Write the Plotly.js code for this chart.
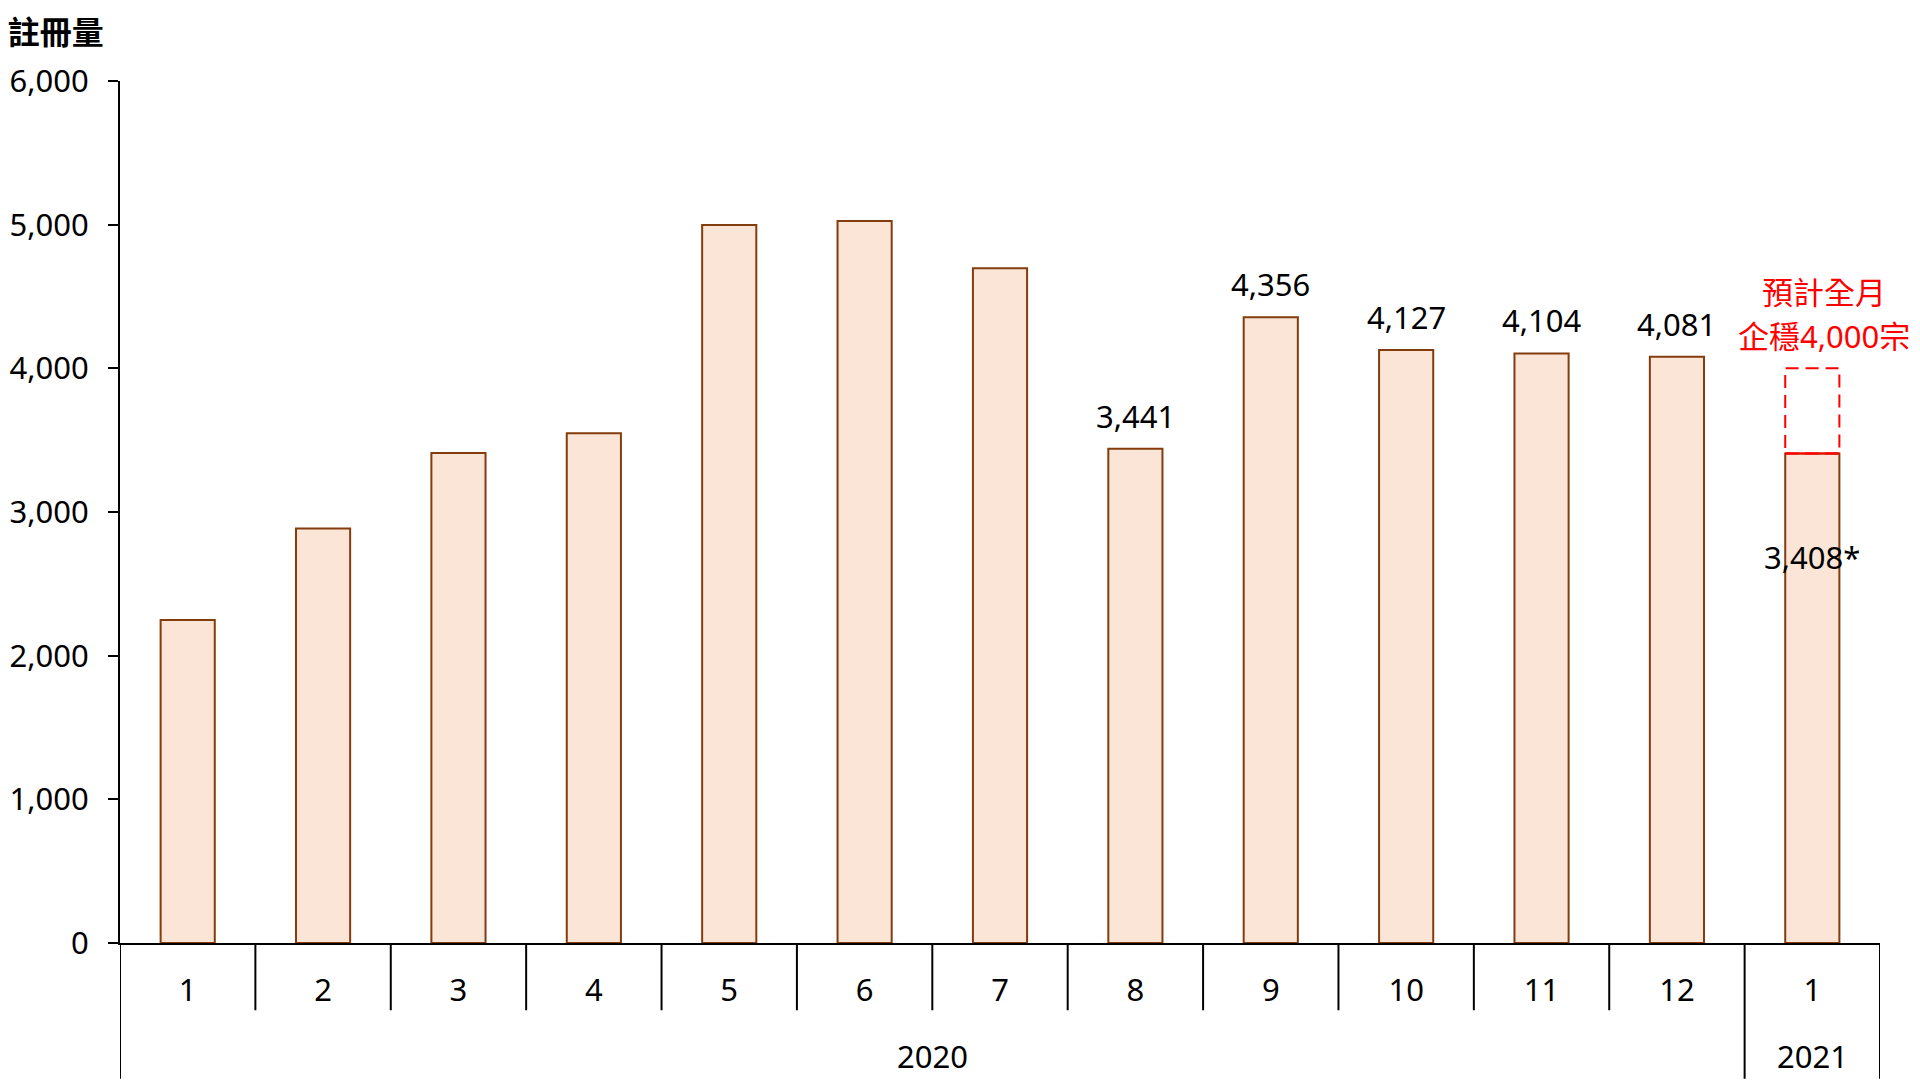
<!DOCTYPE html>
<html>
<head>
<meta charset="utf-8">
<script src="https://cdn.plot.ly/plotly-3.0.1.min.js"></script>
<style>html,body{margin:0;padding:0;background:#fff;}#chart{width:1920px;height:1080px;}</style>
</head>
<body>
<div id="chart"></div>
<script>
// ---- data ----
const monthLabels = ['1','2','3','4','5','6','7','8','9','10','11','12','1'];
const registrations = [2248, 2886, 3410, 3548, 4998, 5025, 4696, 3441, 4356, 4127, 4104, 4081, 3408];
const valueLabels = [null, null, null, null, null, null, null, '3,441', '4,356', '4,127', '4,104', '4,081', '3,408*'];
const yearLabels = ['2020', '2021'];
const yearSpans = [[0, 11], [12, 12]];
const projectedFullMonth = 4000;
const projectionLines = ['預計全月', '企穩4,000宗'];
const yTickVals = [0, 1000, 2000, 3000, 4000, 5000, 6000];

const FONT = 'Noto Sans, Noto Sans CJK TC, sans-serif';
const FS = 31;
const xIdx = monthLabels.map((_, i) => i);
const halfBar = 0.2;
const lastIdx = monthLabels.length - 1;

const trace = {
  type: 'bar',
  x: xIdx,
  y: registrations,
  marker: { color: '#FBE5D6', line: { color: '#843C0C', width: 2 } },
  hoverinfo: 'x+y'
};

const annotations = [];
valueLabels.forEach((t, i) => {
  if (!t) return;
  const inside = i === lastIdx;
  annotations.push({
    x: i, y: registrations[i], xref: 'x', yref: 'y',
    text: t, showarrow: false,
    xanchor: 'center', yanchor: 'middle',
    yshift: inside ? -104 : 33,
    font: { family: FONT, size: FS, color: '#000' }
  });
});
yearLabels.forEach((t, k) => {
  annotations.push({
    x: (yearSpans[k][0] + yearSpans[k][1]) / 2, xref: 'x',
    y: -0.131, yref: 'paper',
    text: t, showarrow: false, xanchor: 'center', yanchor: 'middle',
    font: { family: FONT, size: FS, color: '#000' }
  });
});
projectionLines.forEach((t, k) => {
  annotations.push({
    x: lastIdx, y: projectedFullMonth, xref: 'x', yref: 'y',
    text: t, showarrow: false,
    xanchor: 'center', yanchor: 'middle', xshift: 12,
    yshift: 76 - k * 44,
    font: { family: FONT, size: FS, color: '#FF0000' }
  });
});

const shapes = [
  // projection dashed box
  { type: 'rect', xref: 'x', yref: 'y', x0: lastIdx - halfBar, x1: lastIdx + halfBar,
    y0: registrations[lastIdx], y1: projectedFullMonth,
    line: { color: '#FF0000', width: 2, dash: '13px,7px' }, fillcolor: 'rgba(0,0,0,0)', layer: 'above' },
  { type: 'line', xref: 'x', yref: 'y', x0: lastIdx - halfBar, x1: lastIdx + halfBar,
    y0: registrations[lastIdx], y1: registrations[lastIdx],
    line: { color: '#FF0000', width: 2 }, layer: 'above' },
  // long separators for year groups
  { type: 'line', xref: 'x', yref: 'paper', x0: -0.5, x1: -0.5, y0: 0, y1: -0.1575,
    line: { color: '#000', width: 2 } },
  { type: 'line', xref: 'x', yref: 'paper', x0: 11.5, x1: 11.5, y0: 0, y1: -0.1575,
    line: { color: '#000', width: 2 } },
  { type: 'line', xref: 'x', yref: 'paper', x0: lastIdx + 0.5, x1: lastIdx + 0.5, y0: 0, y1: -0.1575,
    line: { color: '#000', width: 2 } }
];

const layout = {
  width: 1920, height: 1080,
  paper_bgcolor: '#fff', plot_bgcolor: '#fff',
  margin: { l: 120, r: 40, t: 81, b: 137, pad: 0 },
  bargap: 0.6,
  showlegend: false,
  font: { family: FONT, color: '#000' },
  title: {
    text: '<b>註冊量</b>', xref: 'container', yref: 'container',
    x: 0.004, xanchor: 'left', y: 1 - 33 / 1080, yanchor: 'middle',
    font: { family: FONT, size: 32, color: '#000' }
  },
  xaxis: {
    type: 'linear',
    range: [-0.5, lastIdx + 0.5],
    tickmode: 'array', tickvals: xIdx, ticktext: monthLabels,
    showgrid: false, zeroline: false,
    showline: true, linecolor: '#000', linewidth: 2,
    ticks: '',
    tickfont: { family: FONT, size: FS, color: '#000' },
    ticklabelstandoff: 19,
    fixedrange: true
  },
  yaxis: {
    range: [0, 6000],
    tickmode: 'array', tickvals: yTickVals,
    tickformat: ',d',
    showgrid: false, zeroline: false,
    showline: true, linecolor: '#000', linewidth: 2,
    ticks: 'outside', ticklen: 10, tickwidth: 2, tickcolor: '#000',
    tickfont: { family: FONT, size: FS, color: '#000' },
    ticklabelstandoff: 13,
    fixedrange: true
  },
  shapes: shapes.concat(
    // month separators (short ticks at category boundaries)
    xIdx.slice(0, lastIdx).filter(i => i !== 11).map(i => ({
      type: 'line', xref: 'x', yref: 'paper', x0: i + 0.5, x1: i + 0.5, y0: 0, y1: -0.078,
      line: { color: '#000', width: 2 }
    }))
  ),
  annotations: annotations
};

Plotly.newPlot('chart', [trace], layout, { displayModeBar: false, staticPlot: true });
</script>
</body>
</html>
